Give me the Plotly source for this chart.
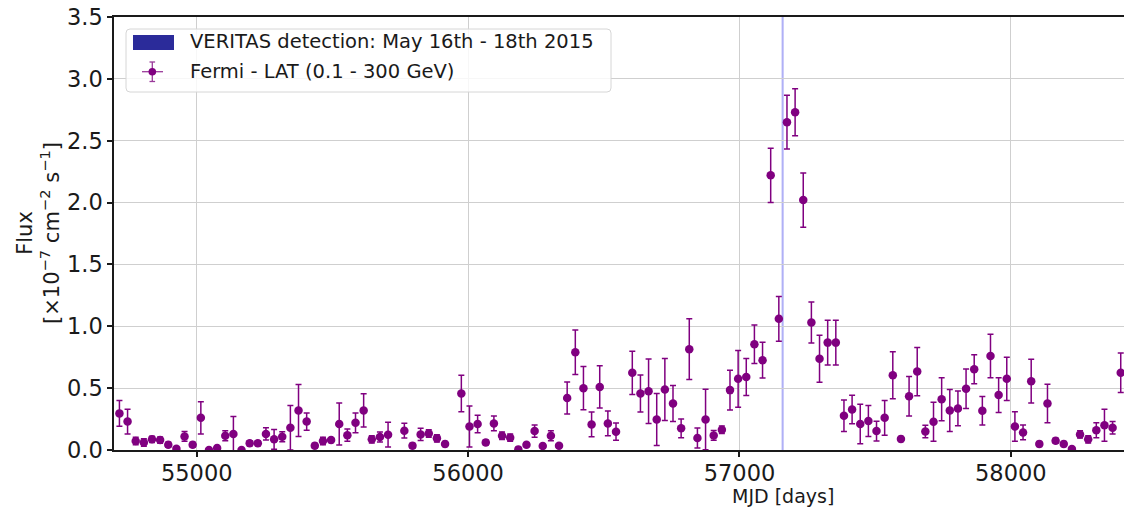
import plotly.graph_objects as go

# Fermi-LAT 30-day binned light curve (bin centres in MJD)
mjd = [
    54715, 54745, 54775, 54805, 54835, 54865, 54895, 54925, 54955, 54985,
    55015, 55045, 55075, 55105, 55135, 55165, 55195, 55225, 55255, 55285,
    55315, 55345, 55375, 55405, 55435, 55465, 55495, 55525, 55555, 55585,
    55615, 55645, 55675, 55705, 55765, 55795, 55825, 55855, 55885,
    55915, 55975, 56005, 56035, 56065, 56095, 56125, 56155, 56185,
    56215, 56245, 56275, 56305, 56335, 56365, 56395, 56425, 56455, 56485,
    56515, 56545, 56605, 56635, 56665, 56695, 56725, 56755, 56785,
    56815, 56845, 56875, 56905, 56935, 56965, 56995, 57025, 57055, 57085,
    57115, 57145, 57175, 57205, 57235, 57265, 57295, 57325, 57355, 57385,
    57415, 57445, 57475, 57505, 57535, 57565, 57595, 57625, 57655, 57685,
    57715, 57745, 57775, 57805, 57835, 57865, 57895, 57925, 57955, 57985,
    58015, 58045, 58075, 58105, 58135, 58165, 58195, 58225, 58255, 58285,
    58315, 58345, 58375, 58405,
]

# Flux in units of 1e-7 ph cm^-2 s^-1
flux = [
    0.296, 0.23, 0.073, 0.06, 0.086, 0.08, 0.043, 0.01, 0.11, 0.043,
    0.26, 0.0, 0.016, 0.115, 0.13, 0.0, 0.054, 0.054, 0.13, 0.086,
    0.107, 0.18, 0.32, 0.23, 0.035, 0.073, 0.08, 0.21, 0.12, 0.22,
    0.32, 0.086, 0.105, 0.124, 0.156, 0.035, 0.126, 0.134, 0.094,
    0.048, 0.457, 0.19, 0.21, 0.06, 0.215, 0.115, 0.10, 0.005,
    0.043, 0.153, 0.032, 0.115, 0.035, 0.42, 0.79, 0.50, 0.207, 0.51,
    0.215, 0.148, 0.624, 0.457, 0.475, 0.247, 0.489, 0.376, 0.175,
    0.815, 0.097, 0.247, 0.118, 0.164, 0.484, 0.575, 0.59, 0.855, 0.726,
    2.22, 1.06, 2.65, 2.73, 2.02, 1.03, 0.737, 0.868, 0.868, 0.277,
    0.328, 0.21, 0.234, 0.153, 0.26, 0.605, 0.089, 0.435, 0.634, 0.15,
    0.228, 0.41, 0.32, 0.336, 0.495, 0.653, 0.317, 0.76, 0.444, 0.575,
    0.19, 0.142, 0.556, 0.048, 0.376, 0.075, 0.048, 0.008, 0.126, 0.086,
    0.16, 0.2, 0.18, 0.624,
]

flux_err = [
    0.105, 0.10, 0.03, 0.03, 0.025, 0.025, 0.02, 0.01, 0.04, 0.02,
    0.13, 0.01, 0.01, 0.04, 0.14, 0.01, 0.02, 0.02, 0.05, 0.08,
    0.04, 0.18, 0.21, 0.07, 0.02, 0.03, 0.02, 0.17, 0.05, 0.08,
    0.135, 0.03, 0.04, 0.10, 0.06, 0.02, 0.05, 0.03, 0.03,
    0.02, 0.147, 0.165, 0.07, 0.02, 0.06, 0.03, 0.03, 0.01,
    0.015, 0.05, 0.015, 0.04, 0.015, 0.13, 0.18, 0.175, 0.10, 0.17,
    0.10, 0.07, 0.175, 0.15, 0.26, 0.21, 0.25, 0.145, 0.075,
    0.245, 0.08, 0.245, 0.04, 0.03, 0.16, 0.23, 0.15, 0.155, 0.145,
    0.22, 0.18, 0.217, 0.19, 0.22, 0.166, 0.19, 0.18, 0.18, 0.128,
    0.115, 0.16, 0.125, 0.08, 0.14, 0.19, 0.02, 0.16, 0.195, 0.05,
    0.157, 0.173, 0.17, 0.14, 0.16, 0.117, 0.115, 0.175, 0.14, 0.175,
    0.12, 0.06, 0.177, 0.02, 0.155, 0.02, 0.02, 0.01, 0.03, 0.03,
    0.06, 0.13, 0.05, 0.16,
]

# VERITAS detection window (MJD): May 16th - 18th 2015
veritas_start = 57158
veritas_end = 57160

x_range = [54695, 58417]
y_range = [0, 3.5]
x_ticks = [55000, 56000, 57000, 58000]
y_ticks = [0.0, 0.5, 1.0, 1.5, 2.0, 2.5, 3.0, 3.5]

FONT = "DejaVu Sans"
INK = "#1a1a1a"
PURPLE = "#800080"
GRID = "#cfcfcf"

fig = go.Figure()

fig.add_trace(go.Scatter(
    x=mjd, y=flux,
    mode="markers",
    marker=dict(color=PURPLE, size=8.5, symbol="circle"),
    error_y=dict(type="data", array=flux_err, visible=True,
                 color=PURPLE, thickness=1.5, width=3),
    showlegend=False,
))

# VERITAS detection band
fig.add_vrect(x0=veritas_start, x1=veritas_end,
              fillcolor="#3a3ad0", opacity=0.55,
              line=dict(color="#7070f0", width=1.5), layer="below")

# plot-area pixel geometry used for the hand-built legend
L, T, W, H = 114, 17, 1010, 433


def px(xp):
    return (xp - L) / W


def py(yp):
    return (T + H - yp) / H


# legend frame with rounded corners
x0, x1, y0, y1 = px(126), px(611), py(92), py(29)
rx, ry = 4 / W, 4 / H
frame = (f"M {x0+rx},{y1} L {x1-rx},{y1} Q {x1},{y1} {x1},{y1-ry} "
         f"L {x1},{y0+ry} Q {x1},{y0} {x1-rx},{y0} L {x0+rx},{y0} "
         f"Q {x0},{y0} {x0},{y0+ry} L {x0},{y1-ry} Q {x0},{y1} {x0+rx},{y1} Z")
fig.add_shape(type="path", path=frame, xref="paper", yref="paper",
              fillcolor="rgba(255,255,255,0.82)",
              line=dict(color="#d6d6d6", width=1), layer="above")

# legend handle: VERITAS patch
fig.add_shape(type="rect", xref="paper", yref="paper",
              x0=px(133), x1=px(174), y0=py(50), y1=py(35),
              fillcolor="#2b2b9a", line=dict(width=0), layer="above")

# legend handle: error-bar marker
ecol = "#9a3a9a"
fig.add_shape(type="line", xref="paper", yref="paper",
              x0=px(142), x1=px(163), y0=py(71.7), y1=py(71.7),
              line=dict(color=ecol, width=1.3), layer="above")
fig.add_shape(type="line", xref="paper", yref="paper",
              x0=px(152.3), x1=px(152.3), y0=py(62), y1=py(81.5),
              line=dict(color=ecol, width=1.3), layer="above")
for yy in (62, 81.5):
    fig.add_shape(type="line", xref="paper", yref="paper",
                  x0=px(149.5), x1=px(155.1), y0=py(yy), y1=py(yy),
                  line=dict(color=ecol, width=1.3), layer="above")
fig.add_shape(type="circle", xref="paper", yref="paper",
              x0=px(148.5), x1=px(156.1), y0=py(75.5), y1=py(67.9),
              fillcolor=PURPLE, line=dict(width=0), layer="above")

legend_font = dict(family=FONT, size=19.5, color=INK)
fig.add_annotation(x=px(188), y=py(42), xref="paper", yref="paper",
                   text="VERITAS detection: May 16th - 18th 2015",
                   showarrow=False, xanchor="left", yanchor="middle",
                   font=legend_font)
fig.add_annotation(x=px(188), y=py(71.7), xref="paper", yref="paper",
                   text="Fermi - LAT (0.1 - 300 GeV)",
                   showarrow=False, xanchor="left", yanchor="middle",
                   font=legend_font)

# axis titles
fig.add_annotation(x=px(782.5), y=py(496), xref="paper", yref="paper",
                   text="MJD [days]", showarrow=False,
                   xanchor="center", yanchor="middle",
                   font=dict(family=FONT, size=19, color=INK))
fig.add_annotation(x=px(38.5), y=0.5, xref="paper", yref="paper",
                   text="Flux<br>[×10<sup>−7</sup> cm<sup>−2</sup> s<sup>−1</sup>]",
                   showarrow=False, textangle=-90,
                   xanchor="center", yanchor="middle",
                   font=dict(family=FONT, size=21, color=INK))

axis_common = dict(
    showgrid=True, gridcolor=GRID, gridwidth=1,
    showline=True, linecolor=INK, linewidth=1.5,
    ticks="outside", ticklen=5, tickwidth=1.5, tickcolor=INK,
    tickfont=dict(family=FONT, size=22.5, color=INK),
    zeroline=False,
)

fig.update_xaxes(range=x_range, tickvals=x_ticks,
                 ticktext=[str(v) for v in x_ticks],
                 mirror=True, ticklabelstandoff=-3, **axis_common)
fig.update_yaxes(range=y_range, tickvals=y_ticks,
                 ticktext=[f"{v:.1f}" for v in y_ticks],
                 mirror=False, **axis_common)

fig.update_layout(
    width=1124, height=507,
    margin=dict(l=L, r=0, t=T, b=507 - T - H),
    paper_bgcolor="white", plot_bgcolor="white",
    font=dict(family=FONT, color=INK),
    showlegend=False,
)

fig.write_html("out.html", include_plotlyjs=True, full_html=True,
               config={"displayModeBar": False})
